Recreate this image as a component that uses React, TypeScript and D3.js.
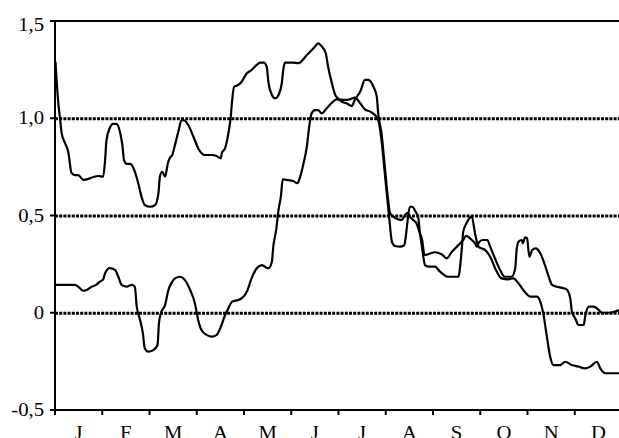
import React from "react";
import * as d3 from "d3";

const MONTHS = ["J", "F", "M", "A", "M", "J", "J", "A", "S", "O", "N", "D"];
const Y_TICKS = [-0.5, 0, 0.5, 1.0, 1.5];
const Y_TICK_LABELS = ["-0,5", "0", "0,5", "1,0", "1,5"];
const GRID_VALUES = [0, 0.5, 1.0];

// time in months (0..12), values
const seriesA_t = [0.01,0.07,0.11,0.14,0.21,0.28,0.35,0.42,0.49,0.60,0.70,0.81,0.92,1.02,1.06,1.09,1.16,1.23,1.30,1.38,1.43,1.46,1.52,1.59,1.69,1.76,1.83,1.90,2.01,2.12,2.19,2.22,2.27,2.33,2.39,2.43,2.48,2.54,2.61,2.68,2.75,2.82,2.93,3.03,3.17,3.32,3.42,3.51,3.53,3.60,3.67,3.72,3.75,3.79,3.88,3.95,4.06,4.16,4.27,4.34,4.42,4.48,4.52,4.59,4.66,4.73,4.80,4.83,4.87,5.04,5.15,5.33,5.50,5.57,5.64,5.73,5.78,5.86,5.93,6.00,6.07,6.17,6.28,6.35,6.46,6.56,6.63,6.74,6.81,6.84,6.91,6.98,7.05,7.09,7.16,7.27,7.34,7.41,7.46,7.51,7.58,7.65,7.72,7.77,7.82,7.90,8.04,8.18,8.29,8.40,8.54,8.64,8.70,8.82,8.89,8.93,8.98,9.06,9.15,9.21,9.31,9.42,9.52,9.66,9.74,9.77,9.81,9.88,9.90,9.95,9.99,10.04,10.10,10.17,10.27,10.38,10.45,10.52,10.62,10.77,10.84,10.91,10.94,11.01,11.08,11.19,11.22,11.30,11.40,11.51,11.58,11.72,11.95];
const seriesA_v = [1.29,1.078,0.991,0.924,0.873,0.828,0.719,0.708,0.708,0.683,0.688,0.698,0.703,0.700,0.785,0.888,0.950,0.971,0.971,0.924,0.854,0.785,0.765,0.765,0.725,0.667,0.597,0.554,0.545,0.554,0.616,0.700,0.725,0.700,0.770,0.796,0.811,0.863,0.931,0.991,0.987,0.965,0.905,0.846,0.811,0.811,0.806,0.794,0.820,0.846,0.923,1.008,1.094,1.162,1.171,1.188,1.231,1.248,1.274,1.286,1.286,1.265,1.180,1.120,1.103,1.120,1.180,1.248,1.286,1.286,1.283,1.325,1.368,1.385,1.371,1.334,1.265,1.180,1.120,1.099,1.085,1.077,1.063,1.097,1.137,1.197,1.197,1.162,1.111,1.025,0.923,0.751,0.580,0.513,0.494,0.480,0.477,0.503,0.514,0.494,0.477,0.460,0.410,0.374,0.297,0.301,0.311,0.301,0.280,0.314,0.348,0.374,0.395,0.374,0.357,0.340,0.365,0.374,0.374,0.340,0.280,0.220,0.185,0.185,0.229,0.323,0.365,0.374,0.357,0.388,0.383,0.288,0.323,0.331,0.306,0.237,0.185,0.143,0.134,0.126,0.117,0.066,0.005,-0.029,-0.063,-0.063,-0.020,0.031,0.031,0.014,0.000,0.000,0.014];

const seriesB_t = [0.00,0.42,0.49,0.60,0.67,0.78,0.87,0.95,1.02,1.06,1.16,1.27,1.34,1.41,1.52,1.62,1.69,1.73,1.76,1.80,1.86,1.90,1.97,2.08,2.17,2.20,2.24,2.33,2.40,2.46,2.54,2.65,2.75,2.86,2.96,3.03,3.10,3.21,3.32,3.42,3.51,3.60,3.67,3.75,3.88,3.95,4.06,4.16,4.27,4.38,4.44,4.52,4.59,4.62,4.68,4.73,4.78,4.82,4.90,5.04,5.13,5.19,5.26,5.33,5.38,5.43,5.50,5.57,5.64,5.75,5.85,5.96,6.14,6.24,6.35,6.46,6.56,6.67,6.77,6.84,6.91,6.98,7.05,7.09,7.13,7.20,7.30,7.39,7.42,7.46,7.51,7.56,7.63,7.69,7.72,7.76,7.79,7.83,7.90,8.04,8.15,8.32,8.54,8.57,8.61,8.64,8.71,8.82,8.89,8.96,9.03,9.10,9.21,9.35,9.45,9.59,9.70,9.81,9.91,10.06,10.20,10.27,10.34,10.41,10.48,10.55,10.69,10.80,10.94,11.08,11.22,11.33,11.47,11.54,11.65,11.95];
const seriesB_v = [0.143,0.143,0.134,0.113,0.117,0.134,0.143,0.160,0.172,0.203,0.229,0.220,0.185,0.143,0.134,0.143,0.134,0.031,-0.003,-0.037,-0.106,-0.183,-0.200,-0.192,-0.166,-0.054,-0.003,0.040,0.117,0.151,0.177,0.185,0.168,0.117,0.049,-0.037,-0.089,-0.114,-0.123,-0.114,-0.072,-0.012,0.023,0.057,0.066,0.074,0.108,0.177,0.229,0.245,0.237,0.229,0.262,0.340,0.425,0.528,0.597,0.686,0.683,0.677,0.666,0.700,0.768,0.854,0.957,1.025,1.042,1.042,1.025,1.051,1.077,1.097,1.094,1.097,1.106,1.077,1.046,1.034,1.017,0.991,0.888,0.717,0.545,0.446,0.365,0.343,0.340,0.347,0.384,0.468,0.545,0.545,0.520,0.486,0.417,0.348,0.297,0.246,0.237,0.237,0.211,0.185,0.185,0.229,0.331,0.417,0.460,0.494,0.408,0.340,0.331,0.323,0.288,0.211,0.177,0.172,0.177,0.151,0.117,0.083,0.083,0.057,-0.012,-0.123,-0.226,-0.269,-0.269,-0.252,-0.269,-0.277,-0.286,-0.277,-0.252,-0.286,-0.311,-0.311];

const W = 619;
const H = 438;
const FONT = "'Liberation Serif', 'Times New Roman', serif";
const SX = 1.15;
const FS = 18;

export default function App() {
  const x = d3.scaleLinear().domain([0, 12]).range([55, 622]);
  const y = d3.scaleLinear().domain([-0.5, 1.5]).range([410, 21]);

  const line = d3
    .line<[number, number]>()
    .x((d) => x(d[0]))
    .y((d) => y(d[1]))
    .curve(d3.curveMonotoneX);

  const dataA: [number, number][] = seriesA_t.map((t, i) => [t, seriesA_v[i]]);
  const dataB: [number, number][] = seriesB_t.map((t, i) => [t, seriesB_v[i]]);

  const monthTicks = d3.range(0, 13);

  return (
    <svg
      width={W}
      height={H}
      style={{ position: "absolute", left: 0, top: 0, background: "#fff" }}
    >
      <rect x={0} y={0} width={W} height={H} fill="#fff" />
      {GRID_VALUES.map((v) => (
        <line
          key={"g" + v}
          x1={x(0)}
          x2={x(12)}
          y1={y(v) + 0.5}
          y2={y(v) + 0.5}
          stroke="#000"
          strokeWidth={3}
          strokeDasharray="3 1.2"
        />
      ))}
      {/* top border */}
      <line x1={x(0) - 5} x2={x(12)} y1={y(1.5)} y2={y(1.5)} stroke="#000" strokeWidth={2} />
      {/* y axis */}
      <line x1={x(0)} x2={x(0)} y1={y(1.5)} y2={y(-0.5) + 1} stroke="#000" strokeWidth={2} />
      {/* x axis */}
      <line x1={x(0) - 5} x2={x(12)} y1={y(-0.5)} y2={y(-0.5)} stroke="#000" strokeWidth={2} />
      {Y_TICKS.map((v) => (
        <line key={"yt" + v} x1={x(0) - 5} x2={x(0)} y1={y(v)} y2={y(v)} stroke="#000" strokeWidth={2} />
      ))}
      {monthTicks.map((m) => (
        <line key={"xt" + m} x1={x(m)} x2={x(m)} y1={y(-0.5)} y2={y(-0.5) + 5} stroke="#000" strokeWidth={2} />
      ))}
      {Y_TICK_LABELS.map((lab, i) => (
        <g
          key={"yl" + i}
          transform={`translate(${44},${y(Y_TICKS[i]) + 6 + (Y_TICKS[i] === 1.5 ? 4 : 0)}) scale(${SX},1)`}
        >
          <text textAnchor="end" fontFamily={FONT} fontSize={FS} fill="#000">
            {lab}
          </text>
        </g>
      ))}
      {MONTHS.map((m, i) => (
        <g key={"ml" + i} transform={`translate(${x(i + 0.5)},${438.5}) scale(${SX},1)`}>
          <text textAnchor="middle" fontFamily={FONT} fontSize={FS} fill="#000">
            {m}
          </text>
        </g>
      ))}
      <path d={line(dataB) || ""} fill="none" stroke="#000" strokeWidth={2.2} strokeLinejoin="round" />
      <path d={line(dataA) || ""} fill="none" stroke="#000" strokeWidth={2.2} strokeLinejoin="round" />
    </svg>
  );
}
